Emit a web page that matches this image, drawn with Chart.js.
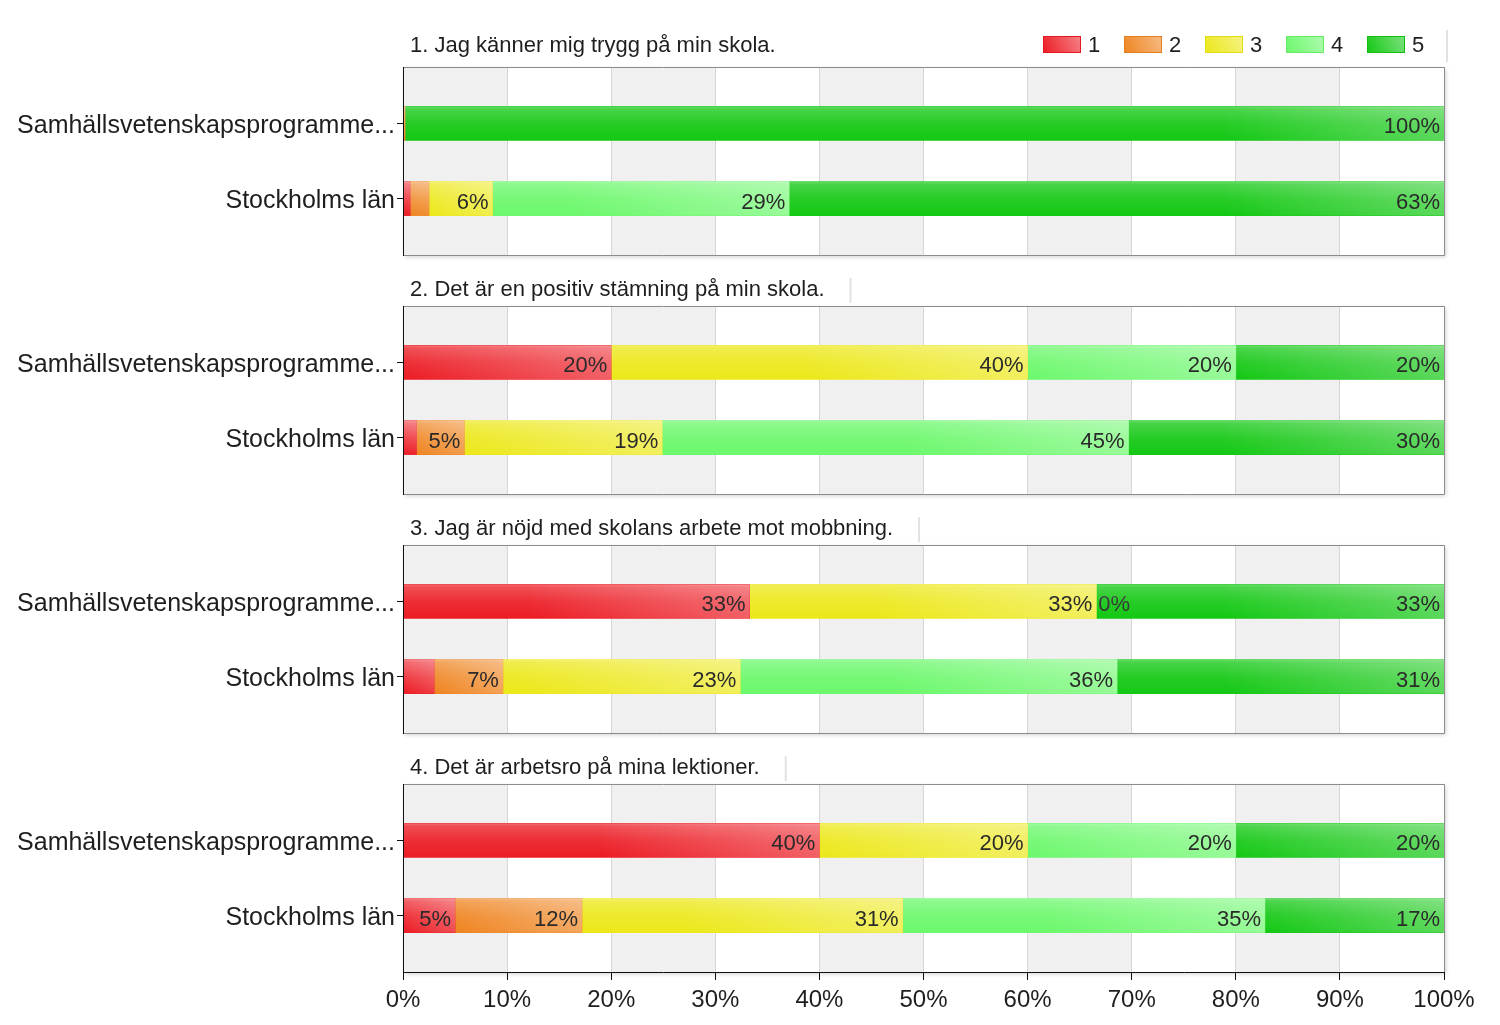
<!DOCTYPE html>
<html><head><meta charset="utf-8">
<script src="https://cdn.jsdelivr.net/npm/chart.js@4.4.1/dist/chart.umd.min.js"></script>
<style>
html,body{margin:0;padding:0;background:#fff;width:1500px;height:1025px;overflow:hidden;}
canvas{position:absolute;left:0;}
</style></head><body>
<canvas id="c0"></canvas><canvas id="c1"></canvas><canvas id="c2"></canvas><canvas id="c3"></canvas>
<script>
const categories = ['Samhällsvetenskapsprogramme...', 'Stockholms län'];
const questions = [
  '1. Jag känner mig trygg på min skola.',
  '2. Det är en positiv stämning på min skola.',
  '3. Jag är nöjd med skolans arbete mot mobbning.',
  '4. Det är arbetsro på mina lektioner.'
];
const levels = ['1', '2', '3', '4', '5'];
const xTicks = [0, 10, 20, 30, 40, 50, 60, 70, 80, 90, 100];
// values per level: [question][category] in percent
const level1 = [[null, 0.7], [20, 1.3], [33.3, 3.0], [40, 5.0]];
const level2 = [[0.2, 1.8], [null, 4.6], [null, 6.6], [null, 12.2]];
const level3 = [[null, 6.1], [40, 19.0], [33.3, 22.8], [20, 30.8]];
const level4 = [[null, 28.5], [20, 44.8], [0, 36.2], [20, 34.8]];
const level5 = [[99.8, 62.9], [20, 30.3], [33.4, 31.4], [20, 17.2]];
const levelValues = [level1, level2, level3, level4, level5];
const colors = ['#ec1c24', '#ef8420', '#ece81a', '#6cf86c', '#14c814'];

const FONT = '"Liberation Sans", Arial, sans-serif';
const LEFT = 403, RIGHT_PAD = 56, TOP_PAD = 40, AREA_H = 188, STEP = 239, FIRST = 27;

const panelPlugin = {
  id: 'panel',
  beforeDraw(chart) {
    const {ctx, chartArea: a, scales: {x}} = chart;
    const idx = chart.options.plugins.panel.index;
    ctx.save();
    ctx.font = '22px ' + FONT;
    const tw = ctx.measureText(questions[idx]).width;
    const boxRight = idx === 0 ? a.right + 2 : a.left + 7 + tw + 25;
    ctx.fillStyle = '#e2e2e2';
    if (idx === 0) ctx.fillRect(boxRight, a.top - 37, 2, 32);
    else ctx.fillRect(boxRight, a.top - 28, 2, 25);
    ctx.shadowColor = 'rgba(0,0,0,0.18)';
    ctx.shadowBlur = 4;
    ctx.shadowOffsetX = 2;
    ctx.shadowOffsetY = 2;
    ctx.fillStyle = '#fff';
    ctx.fillRect(a.left, a.top, a.right - a.left, a.bottom - a.top);
    ctx.shadowColor = 'transparent';
    ctx.fillStyle = '#f0f0f0';
    for (let i = 0; i < xTicks.length - 1; i += 2) {
      const x0 = x.getPixelForValue(xTicks[i]);
      const x1 = x.getPixelForValue(xTicks[i + 1]);
      ctx.fillRect(x0, a.top, x1 - x0, a.bottom - a.top);
    }
    ctx.fillStyle = '#1e1e1e';
    ctx.textBaseline = 'middle';
    ctx.textAlign = 'left';
    ctx.fillText(questions[idx], a.left + 7, idx === 0 ? a.top - 21 : a.top - 16);
    if (idx === 0) {
      ctx.font = '22px ' + FONT;
      levels.forEach((lv, i) => {
        const lx = 1043 + i * 81, ly = a.top - 31;
        const g = ctx.createLinearGradient(lx, ly + 17, lx + 38, ly);
        g.addColorStop(0, colors[i]);
        g.addColorStop(1, lighten(colors[i], 0.45));
        ctx.fillStyle = g;
        ctx.fillRect(lx, ly, 38, 17);
        ctx.strokeStyle = lighten(colors[i], -0.05);
        ctx.lineWidth = 1;
        ctx.strokeRect(lx + 0.5, ly + 0.5, 37, 16);
        ctx.fillStyle = '#1e1e1e';
        ctx.fillText(lv, lx + 45, ly + 10);
      });
    }
    ctx.restore();
  },
  afterDatasetsDraw(chart) {
    const {ctx} = chart;
    ctx.save();
    chart.data.datasets.forEach((ds, di) => {
      const meta = chart.getDatasetMeta(di);
      meta.data.forEach((el, j) => {
        const v = ds.data[j] ? ds.data[j].x : null;
        if (v === null || v === undefined) return;
        const p = el.getProps(['x', 'y', 'base', 'height'], true);
        const x0 = Math.min(p.x, p.base), x1 = Math.max(p.x, p.base);
        const y0 = p.y - p.height / 2, y1 = p.y + p.height / 2;
        if (x1 - x0 > 0.5) {
          const g = ctx.createLinearGradient(0, y0, 0, y1);
          g.addColorStop(0, 'rgba(255,255,255,0.35)');
          g.addColorStop(0.08, 'rgba(255,255,255,0.22)');
          g.addColorStop(0.5, 'rgba(255,255,255,0.08)');
          g.addColorStop(1, 'rgba(255,255,255,0)');
          ctx.fillStyle = g;
          ctx.fillRect(x0, y0, x1 - x0, y1 - y0);
          const w = Math.min(x1 - x0, 220);
          const h = ctx.createLinearGradient(x1 - w, y1, x1, y0);
          h.addColorStop(0, 'rgba(255,255,255,0)');
          h.addColorStop(1, 'rgba(255,255,255,0.3)');
          ctx.fillStyle = h;
          ctx.fillRect(x1 - w, y0, w, y1 - y0);
        }
        ctx.font = '22px ' + FONT;
        ctx.fillStyle = '#2a2a2a';
        ctx.textBaseline = 'middle';
        const txt = Math.round(v) + '%';
        const tw = ctx.measureText(txt).width;
        if (v === 0) {
          ctx.textAlign = 'left';
          ctx.fillText(txt, x1 + 2, p.y + 4);
        } else if (x1 - x0 >= tw + 6) {
          ctx.textAlign = 'right';
          ctx.fillText(txt, x1 - 4, p.y + 4);
        }
      });
    });
    ctx.restore();
  },
  afterDraw(chart) {
    const {ctx, chartArea: a} = chart;
    const idx = chart.options.plugins.panel.index;
    ctx.save();
    ctx.strokeStyle = '#8c8c8c';
    ctx.lineWidth = 1;
    ctx.beginPath();
    ctx.moveTo(a.left, a.top + 0.5); ctx.lineTo(a.right + 0.5, a.top + 0.5);
    ctx.lineTo(a.right + 0.5, a.bottom + 0.5);
    if (idx !== 3) ctx.lineTo(a.left, a.bottom + 0.5);
    ctx.stroke();
    ctx.strokeStyle = '#111';
    ctx.beginPath();
    ctx.moveTo(a.left + 0.5, a.top); ctx.lineTo(a.left + 0.5, a.bottom + 1);
    if (idx === 3) { ctx.moveTo(a.left, a.bottom + 0.5); ctx.lineTo(a.right + 1, a.bottom + 0.5); }
    ctx.stroke();
    ctx.restore();
  }
};

function lighten(hex, f) {
  const n = parseInt(hex.slice(1), 16);
  let r = n >> 16, g = (n >> 8) & 255, b = n & 255;
  if (f >= 0) { r += (255 - r) * f; g += (255 - g) * f; b += (255 - b) * f; }
  else { r *= 1 + f; g *= 1 + f; b *= 1 + f; }
  return 'rgb(' + Math.round(r) + ',' + Math.round(g) + ',' + Math.round(b) + ')';
}

questions.forEach((q, qi) => {
  const last = qi === 3;
  const cv = document.getElementById('c' + qi);
  const H = last ? TOP_PAD + AREA_H + 53 : TOP_PAD + AREA_H + 11;
  cv.width = 1500; cv.height = H;
  cv.style.width = '1500px'; cv.style.height = H + 'px';
  cv.style.top = (FIRST + STEP * qi) + 'px';
  new Chart(cv, {
    type: 'bar',
    data: {
      datasets: levels.map((lv, li) => ({
        label: lv,
        data: categories.map((c, ci) => ({ x: levelValues[li][qi][ci], y: ci })),
        backgroundColor: colors[li],
        borderWidth: 0,
        barThickness: 34
      }))
    },
    options: {
      indexAxis: 'y',
      responsive: false,
      animation: false,
      devicePixelRatio: 1,
      layout: { padding: { top: TOP_PAD, right: RIGHT_PAD, left: 0, bottom: last ? 0 : 11 } },
      plugins: { legend: { display: false }, tooltip: { enabled: false }, panel: { index: qi } },
      scales: {
        x: {
          type: 'linear', stacked: true, min: 0, max: 100,
          afterBuildTicks: (s) => { s.ticks = xTicks.map(v => ({ value: v })); },
          afterFit: (s) => { s.height = last ? 53 : 0; },
          grid: { color: '#d6d6d6', drawTicks: last, tickLength: 8, tickColor: '#111' },
          border: { display: false },
          ticks: { display: last, padding: 6, color: '#1e1e1e', font: { size: 24, family: FONT },
                   callback: (v) => v + '%' }
        },
        y: {
          type: 'linear', stacked: true, reverse: true, min: -0.75, max: 1.75,
          offset: false,
          afterBuildTicks: (s) => { s.ticks = categories.map((c, i) => ({ value: i })); },
          afterFit: (s) => { s.width = LEFT; s.paddingTop = 0; s.paddingBottom = 0; },
          grid: { offset: false, drawOnChartArea: false, drawTicks: true, tickLength: 6, tickColor: '#111' },
          border: { display: false },
          ticks: { padding: 2, labelOffset: 3, color: '#1e1e1e', font: { size: 25, family: FONT },
                   callback: (v) => categories[v] }
        }
      }
    },
    plugins: [panelPlugin]
  });
});
</script>
</body></html>
